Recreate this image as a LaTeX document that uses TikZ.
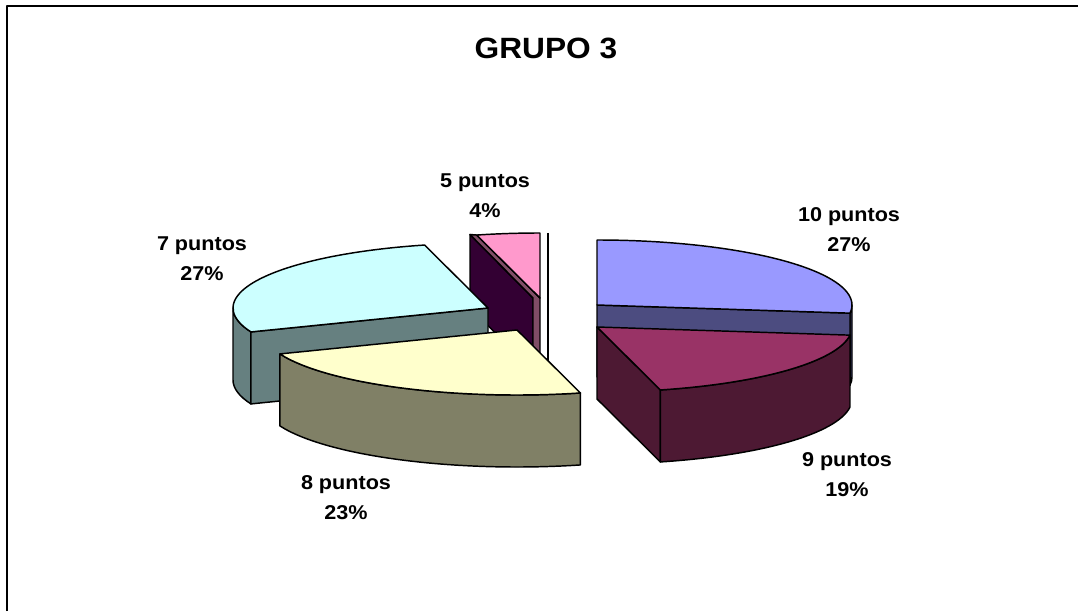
\documentclass[tikz,border=0pt]{standalone}
\usepackage{fontspec}
\setmainfont{Liberation Sans}[FakeStretch=1.08]
\usetikzlibrary{calc}
\definecolor{top10}{HTML}{9999FF}
\definecolor{side10}{HTML}{4C4C80}
\definecolor{top9}{HTML}{993366}
\definecolor{side9}{HTML}{4D1933}
\definecolor{top8}{HTML}{FFFFCC}
\definecolor{side8}{HTML}{808066}
\definecolor{top7}{HTML}{CCFFFF}
\definecolor{side7}{HTML}{668080}
\definecolor{top5}{HTML}{FF99CC}
\definecolor{side5}{HTML}{804D66}
\definecolor{dark5}{HTML}{330033}
\begin{document}
\begin{tikzpicture}[x=0.75pt,y=0.75pt,line join=round,
  face/.style={draw=black,line width=1.1pt},
  ell/.style={x radius=191.25pt,y radius=48.75pt},
  lbl/.style={font=\fontsize{15pt}{22.5pt}\selectfont\bfseries,align=center,anchor=base,inner sep=0pt},
  ttl/.style={font=\fontsize{22pt}{26pt}\selectfont\bfseries,anchor=base,inner sep=0pt}]
\useasboundingbox (0,0) rectangle (1078,611);
\fill[white] (0,0) rectangle (1078,611);
\draw[line width=1.5pt] (7,0) -- (7,605) -- (1078,605);

% ---------- right group: 10 puntos ----------
\coordinate (C10) at (597,306);
\path (C10) ++(90:191.25pt and 48.75pt) coordinate (t10a);
\path (C10) ++(-7.2:191.25pt and 48.75pt) coordinate (t10b);
\path (C10) ++(0:191.25pt and 48.75pt) coordinate (t10c);
\filldraw[face,fill=side10] (t10c) arc[start angle=0,end angle=-7.2,ell] -- ++(0,-72) arc[start angle=-7.2,end angle=0,ell] -- cycle;
\filldraw[face,fill=side10] (C10) -- (t10b) -- ++(0,-72) -- ($(C10)+(0,-72)$) -- cycle;
\filldraw[face,fill=top10] (C10) -- (t10a) arc[start angle=90,end angle=-7.2,ell] -- cycle;

% ---------- 9 puntos ----------
\coordinate (C9) at (597,284);
\path (C9) ++(-7.2:191.25pt and 48.75pt) coordinate (t9a);
\path (C9) ++(-75.6:191.25pt and 48.75pt) coordinate (t9b);
\filldraw[face,fill=side9] (C9) -- (t9b) -- ++(0,-72) -- ($(C9)+(0,-72)$) -- cycle;
\filldraw[face,fill=side9] (t9b) arc[start angle=-75.6,end angle=-7.2,ell] -- ++(0,-72) arc[start angle=-7.2,end angle=-75.6,ell] -- cycle;
\filldraw[face,fill=top9] (C9) -- (t9a) arc[start angle=-7.2,end angle=-75.6,ell] -- cycle;

% ---------- left group: 5 puntos ----------
\coordinate (C5) at (540,313);
\path (C5) ++(90:191.25pt and 48.75pt) coordinate (t5a);
\path (C5) ++(104.4:191.25pt and 48.75pt) coordinate (t5b);
\filldraw[face,fill=dark5] (470,376.5) -- (533,313) -- (533,240) -- (470,303.5) -- cycle;
\filldraw[face,fill=side5] (470,376.5) -- (t5b) -- (C5) -- (540,240) -- (533,240) -- (533,313) -- cycle;
\filldraw[face,fill=top5] (C5) -- (t5a) arc[start angle=90,end angle=104.4,ell] -- cycle;
\draw[line width=1.9pt] (548,378) -- (548,244);

% ---------- 7 puntos ----------
\coordinate (C7) at (488,303);
\path (C7) ++(104.4:191.25pt and 48.75pt) coordinate (t7a);
\path (C7) ++(180:191.25pt and 48.75pt) coordinate (t7b);
\path (C7) ++(201.6:191.25pt and 48.75pt) coordinate (t7c);
\filldraw[face,fill=side7] (t7b) arc[start angle=180,end angle=201.6,ell] -- ++(0,-72) arc[start angle=201.6,end angle=180,ell] -- cycle;
\filldraw[face,fill=side7] (C7) -- (t7c) -- ++(0,-72) -- ($(C7)+(0,-72)$) -- cycle;
\filldraw[face,fill=top7] (C7) -- (t7a) arc[start angle=104.4,end angle=201.6,ell] -- cycle;

% ---------- 8 puntos ----------
\coordinate (C8) at (517,281);
\path (C8) ++(201.6:191.25pt and 48.75pt) coordinate (t8a);
\path (C8) ++(284.4:191.25pt and 48.75pt) coordinate (t8b);
\filldraw[face,fill=side8] (t8a) arc[start angle=201.6,end angle=284.4,ell] -- ++(0,-72) arc[start angle=284.4,end angle=201.6,ell] -- cycle;
\filldraw[face,fill=top8] (C8) -- (t8a) arc[start angle=201.6,end angle=284.4,ell] -- cycle;

% ---------- labels (anchor at baseline of the second line) ----------
\node[ttl] (title) at (546,552) {GRUPO 3};
\node[lbl] (l5) at (485,393) {5 puntos\\4\%};
\node[lbl] (l10) at (849,359) {10 puntos\\27\%};
\node[lbl] (l7) at (202,330) {7 puntos\\27\%};
\node[lbl] (l9) at (847,115) {9 puntos\\19\%};
\node[lbl] (l8) at (346,92) {8 puntos\\23\%};
\end{tikzpicture}
\end{document}
